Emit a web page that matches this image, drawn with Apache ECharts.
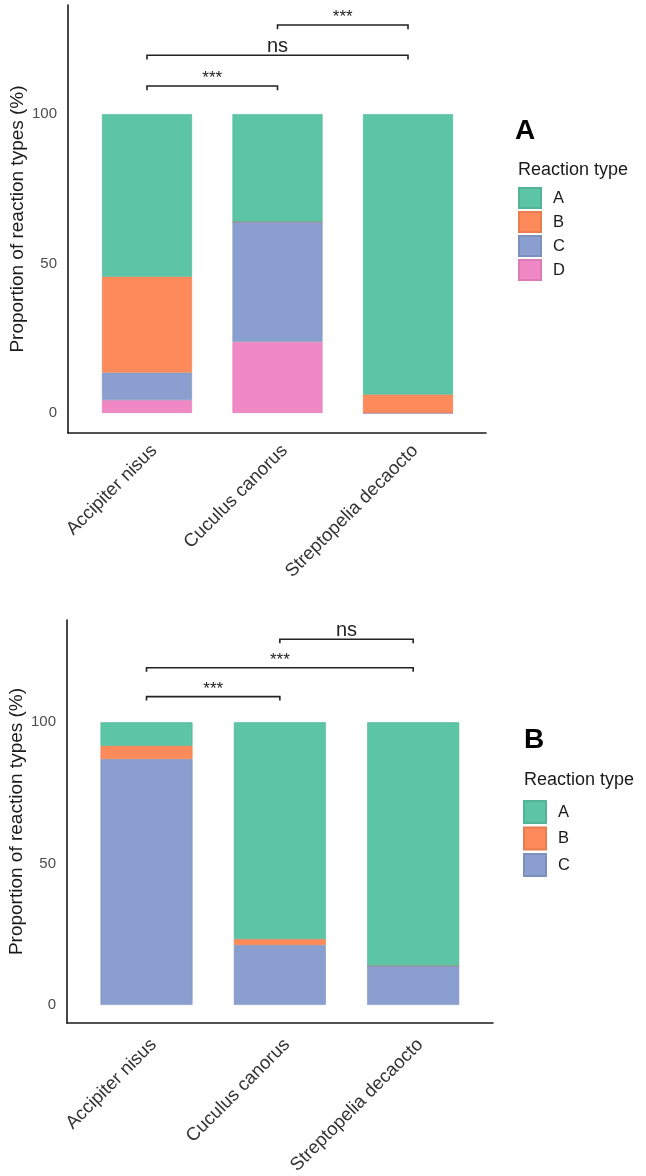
<!DOCTYPE html>
<html>
<head>
<meta charset="utf-8">
<script src="https://cdn.jsdelivr.net/npm/echarts@6/dist/echarts.min.js"></script>
<style>
  html, body { margin: 0; padding: 0; background: #fff; }
  #main { width: 646px; height: 1176px; }
</style>
</head>
<body>
<div id="main"></div>
<script>
"use strict";
// x categories (same in both panels)
var species = ['Accipiter nisus', 'Cuculus canorus', 'Streptopelia decaocto'];
var yTicks = [0, 50, 100];

// panel A, % of each reaction type
var typesA = ['A', 'B', 'C', 'D'];
var panelA_A = [54.4, 36.0, 93.8];
var panelA_B = [32.1, 0, 6.2];
var panelA_C = [9.2, 40.2, 0];
var panelA_D = [4.3, 23.8, 0];
// significance brackets: [from, to, height]
var bracketsA = [[0, 1, 109.4], [0, 2, 119.7], [1, 2, 129.8]];
var bracketLabelsA = ['***', 'ns', '***'];

// panel B
var typesB = ['A', 'B', 'C'];
var panelB_A = [8.3, 76.7, 86.1];
var panelB_B = [4.7, 2.1, 0];
var panelB_C = [87.0, 21.2, 13.9];
var bracketsB = [[0, 1, 109.1], [0, 2, 119.3], [1, 2, 129.4]];
var bracketLabelsB = ['***', '***', 'ns'];

var colors = { A: '#5CC5A5', B: '#FC8A5A', C: '#8A9FCF', D: '#F088C6' };
var edges = { A: '#52b395', B: '#e87d50', C: '#7d90bd', D: '#dc7bb4' };
var font = 'Liberation Sans';

function bar(name, data, xi, stack) {
  return {
    type: 'bar', name: name, data: data, stack: stack,
    xAxisIndex: xi, yAxisIndex: xi, barWidth: '69%',
    itemStyle: { color: colors[name], borderColor: edges[name], borderWidth: 0.6 },
    emphasis: { disabled: true }
  };
}

function brackets(xi, data, labels) {
  return {
    type: 'custom', xAxisIndex: xi, yAxisIndex: xi,
    data: data, clip: false, silent: true, z: 5,
    encode: { x: [0, 1], y: 2 },
    renderItem: function (params, api) {
      var y = api.value(2), tick = 1.4;
      var a = api.coord([api.value(0), y - tick]);
      var b = api.coord([api.value(0), y]);
      var c = api.coord([api.value(1), y]);
      var d = api.coord([api.value(1), y - tick]);
      var label = labels[params.dataIndex];
      return {
        type: 'group',
        children: [
          { type: 'polyline', shape: { points: [a, b, c, d] },
            style: { stroke: '#222', lineWidth: 1.6, fill: null } },
          { type: 'text', x: (b[0] + c[0]) / 2, y: b[1] + 1,
            style: { text: label, fill: '#222', fontFamily: font,
              fontSize: label === 'ns' ? 20 : 17,
              align: 'center', verticalAlign: 'bottom' } }
        ]
      };
    }
  };
}

function frameX(gi) {
  return {
    type: 'value', gridIndex: gi, min: 0, max: 1,
    axisLine: { show: true, onZero: false, lineStyle: { color: '#1a1a1a', width: 1.6 } },
    axisTick: { show: false }, axisLabel: { show: false }, splitLine: { show: false }
  };
}
function frameY(gi, min, max) {
  return {
    type: 'value', gridIndex: gi, min: min, max: max,
    name: 'Proportion of reaction types (%)', nameLocation: 'middle', nameGap: 41,
    nameMoveOverlap: false,
    nameTextStyle: { fontFamily: font, fontSize: 19, color: '#1a1a1a' },
    axisLine: { show: true, onZero: false, lineStyle: { color: '#1a1a1a', width: 1.6 } },
    axisTick: { show: false }, splitLine: { show: false },
    axisLabel: { customValues: yTicks, margin: 11, fontFamily: font, fontSize: 15, color: '#4d4d4d' }
  };
}
function catX(gi, margin) {
  return {
    type: 'category', gridIndex: gi, data: species,
    axisLine: { show: false }, axisTick: { show: false },
    axisLabel: { rotate: 45, margin: margin, interval: 0, padding: [0, -10, 0, 0],
      fontFamily: font, fontSize: 18.5, color: '#333' }
  };
}
function hiddenY(gi, min, max) {
  return { type: 'value', gridIndex: gi, min: min, max: max, show: false, splitLine: { show: false } };
}
function grid(left, width, top, height) {
  return { left: left, width: width, top: top, height: height, containLabel: false, outerBoundsMode: 'none' };
}

var chart = echarts.init(document.getElementById('main'));
chart.setOption({
  animation: false,
  grid: [
    grid(81.75, 391.5, 5, 428),
    grid(68, 418, 5, 428),
    grid(79.85, 400, 620, 403),
    grid(67, 426, 620, 403)
  ],
  xAxis: [catX(0, 22), frameX(1), catX(2, 26), frameX(3)],
  yAxis: [hiddenY(0, -6.7, 136.5), frameY(1, -6.7, 136.5), hiddenY(2, -6.4, 136.2), frameY(3, -6.4, 136.2)],
  title: [
    { text: 'A', left: 515, top: 117, padding: 0, textStyle: { fontFamily: font, fontSize: 28, fontWeight: 'bold', color: '#000', lineHeight: 28 } },
    { text: 'Reaction type', left: 518, top: 161, padding: 0, textStyle: { fontFamily: font, fontSize: 18, fontWeight: 'normal', color: '#1a1a1a', lineHeight: 18 } },
    { text: 'B', left: 524, top: 726, padding: 0, textStyle: { fontFamily: font, fontSize: 28, fontWeight: 'bold', color: '#000', lineHeight: 28 } },
    { text: 'Reaction type', left: 524, top: 771, padding: 0, textStyle: { fontFamily: font, fontSize: 18, fontWeight: 'normal', color: '#1a1a1a', lineHeight: 18 } }
  ],
  legend: [
    { data: typesA, orient: 'vertical', left: 518, top: 187, padding: 0, icon: 'rect',
      itemWidth: 22, itemHeight: 20, itemGap: 2, selectedMode: false,
      textStyle: { fontFamily: font, fontSize: 16.5, color: '#1a1a1a', padding: [0, 0, 0, 7] } },
    { data: typesB, orient: 'vertical', left: 523, top: 800, padding: 0, icon: 'rect',
      itemWidth: 22, itemHeight: 22, itemGap: 2.5, selectedMode: false,
      textStyle: { fontFamily: font, fontSize: 16.5, color: '#1a1a1a', padding: [0, 0, 0, 7] } }
  ],
  series: [
    bar('D', panelA_D, 0, 'a'),
    bar('C', panelA_C, 0, 'a'),
    bar('B', panelA_B, 0, 'a'),
    bar('A', panelA_A, 0, 'a'),
    brackets(0, bracketsA, bracketLabelsA),
    bar('C', panelB_C, 2, 'b'),
    bar('B', panelB_B, 2, 'b'),
    bar('A', panelB_A, 2, 'b'),
    brackets(2, bracketsB, bracketLabelsB)
  ]
});
</script>
</body>
</html>
